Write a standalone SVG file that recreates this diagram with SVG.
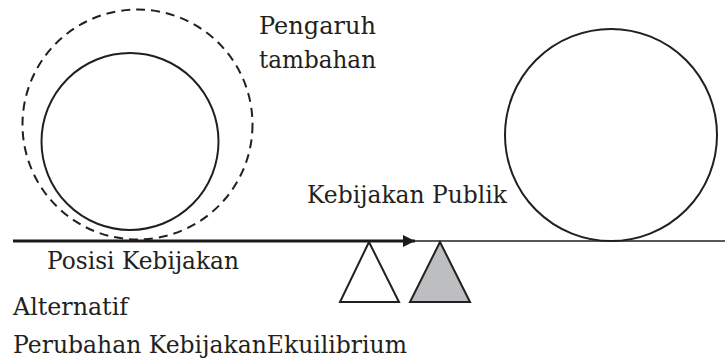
<svg xmlns="http://www.w3.org/2000/svg" width="725" height="362" viewBox="0 0 725 362">
  <defs>
    <marker id="arrowhead" viewBox="0 0 12 12" refX="12" refY="6" markerWidth="12" markerHeight="12" markerUnits="userSpaceOnUse" orient="auto">
      <path d="M0,0 L12,6 L0,12 Z" fill="#1a1a1a"/>
    </marker>
  </defs>
  <style>
    .lbl { font-family: "DejaVu Serif", "Liberation Serif", serif; font-size: 24px; fill: #231f20; }
    .ring { fill: none; stroke: #231f20; stroke-width: 2; }
    .dashed { stroke-dasharray: 9 6; }
    .tri { stroke: #231f20; stroke-width: 2; stroke-linejoin: miter; }
  </style>
  <rect width="725" height="362" fill="#ffffff"/>

  <!-- baseline track and direction arrow -->
  <g id="connectors">
    <line x1="403" y1="241" x2="725" y2="241" stroke="#231f20" stroke-width="1.7"/>
    <line x1="13" y1="241" x2="415" y2="241" stroke="#1a1a1a" stroke-width="3" marker-end="url(#arrowhead)"/>
  </g>

  <!-- alternative position: inner circle plus dashed additional influence -->
  <g id="alternatif">
    <circle class="ring dashed" cx="137.5" cy="124.5" r="115"/>
    <circle class="ring" cx="130" cy="141.5" r="88.5"/>
  </g>

  <!-- equilibrium circle -->
  <g id="ekuilibrium">
    <circle class="ring" cx="611" cy="135" r="106"/>
  </g>

  <!-- fulcrums -->
  <g id="tumpuan-awal">
    <polygon class="tri" points="369,242 340,302 399,302" fill="#ffffff"/>
  </g>
  <g id="tumpuan-baru">
    <polygon class="tri" points="440,242 410,302 470,302" fill="#bcbec0"/>
  </g>

  <!-- labels -->
  <g id="label-pengaruh">
    <text class="lbl" x="259" y="34" textLength="117" lengthAdjust="spacingAndGlyphs">Pengaruh</text>
    <text class="lbl" x="259" y="68" textLength="117" lengthAdjust="spacingAndGlyphs">tambahan</text>
  </g>
  <g id="label-publik">
    <text class="lbl" x="307" y="202.5" textLength="200" lengthAdjust="spacingAndGlyphs">Kebijakan Publik</text>
  </g>
  <g id="label-posisi">
    <text class="lbl" x="47" y="269" textLength="192" lengthAdjust="spacingAndGlyphs">Posisi Kebijakan</text>
  </g>
  <g id="label-alternatif">
    <text class="lbl" x="13" y="314.5" textLength="115" lengthAdjust="spacingAndGlyphs">Alternatif</text>
    <text class="lbl" x="13" y="353" textLength="394" lengthAdjust="spacingAndGlyphs">Perubahan KebijakanEkuilibrium</text>
  </g>
</svg>
